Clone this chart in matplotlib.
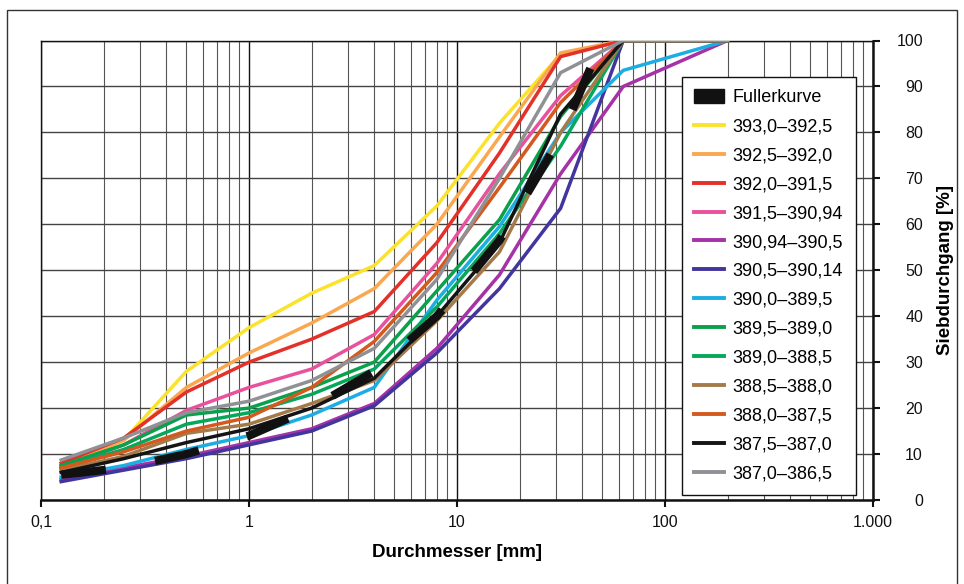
import matplotlib
matplotlib.use('Agg')
import matplotlib.pyplot as plt
from matplotlib.patches import Patch, Rectangle
from matplotlib.ticker import FixedLocator, LogLocator, NullFormatter

# Siebweiten [mm]
sieve = [0.125, 0.25, 0.5, 1, 2, 4, 8, 16, 31.5, 63, 200]
fuller_sieve = [0.125, 0.25, 0.5, 1, 2, 4, 8, 16, 31.5, 50]
fuller = [5.5, 7, 10, 14, 20, 28, 40, 56.5, 79, 100]

labels = ['393,0–392,5', '392,5–392,0', '392,0–391,5', '391,5–390,94',
          '390,94–390,5', '390,5–390,14', '390,0–389,5', '389,5–389,0',
          '389,0–388,5', '388,5–388,0', '388,0–387,5', '387,5–387,0',
          '387,0–386,5']
colors = ['#FBE22C', '#F9A850', '#E3312A', '#E8519B', '#A632A8', '#42369E',
          '#1CAEE2', '#0BA04C', '#05A85B', '#A57A4B', '#D3591F', '#141414',
          '#8F9194']

s393 = [7.5, 13, 28, 37.5, 45, 51, 64, 82, 97, 100, 100]
s3925 = [7.5, 13, 24.5, 32, 38.5, 46, 60, 79, 97.3, 100, 100]
s392 = [8, 13.5, 23.5, 30, 35, 41, 56, 75.5, 96.5, 100, 100]
s3915 = [7, 12, 19.5, 24.5, 28.5, 36, 51.5, 71, 88, 100, 100]
s39094 = [4.5, 7, 9.5, 12.5, 15.5, 21, 33, 49, 71, 90, 100]
s3905 = [4, 6.5, 9, 12, 15, 20.5, 32, 46, 63.5, 100, 100]
s390 = [5, 7.5, 11, 14, 18.5, 24.5, 43.5, 59.5, 80, 93.5, 100]
s3895 = [7.5, 12, 18.5, 20, 24.5, 30, 45.5, 61, 83.5, 100, 100]
s389 = [7, 11, 16.5, 19, 23, 28.5, 42, 58, 77, 100, 100]
s3885 = [6.5, 9.5, 14.5, 16.5, 21, 26, 39, 54, 80, 100, 100]
s388 = [7, 10.5, 15, 18, 24.5, 34.5, 49.5, 68, 86.5, 100, 100]
s3875 = [6, 9, 12.5, 15.5, 20, 26.5, 40, 56, 84, 100, 100]
s387 = [8.7, 13.5, 19, 21.5, 26, 33, 48, 70, 93, 100, 100]
series = [s393, s3925, s392, s3915, s39094, s3905, s390, s3895, s389,
          s3885, s388, s3875, s387]

plt.rcParams['font.family'] = ['Liberation Sans', 'DejaVu Sans']

W, H = 964, 584
fig = plt.figure(figsize=(W / 100, H / 100), dpi=100)
ax = fig.add_axes([41 / W, (H - 500) / H, 832 / W, 459.5 / H])

# Rahmen um die ganze Grafik
fig.patches.append(Rectangle((7 / W, -0.05), 950 / W, (H - 10) / H + 0.05,
                             transform=fig.transFigure, fill=False,
                             edgecolor='#333333', linewidth=1.0))

ax.set_xscale('log')
ax.set_xlim(0.1, 1000)
ax.set_ylim(0, 100)

# Gitter
ax.xaxis.set_minor_locator(LogLocator(base=10, subs=range(2, 10)))
ax.xaxis.set_minor_formatter(NullFormatter())
ax.grid(True, which='minor', axis='x', color='#555555', linewidth=0.8)
ax.grid(True, which='major', axis='x', color='#111111', linewidth=1.0)
ax.grid(True, which='major', axis='y', color='#444444', linewidth=1.0)
ax.set_axisbelow(True)

for vals, c in zip(series, colors):
    ax.plot(sieve, vals, color=c, linewidth=2.5, zorder=3,
            solid_joinstyle='miter')

# Fullerkurve (gestrichelt, dick)
ax.plot(fuller_sieve, fuller, color='#111111', linewidth=6,
        linestyle=(0, (5.4, 6.0)), dash_capstyle='butt', zorder=4)

# Achsen
for side in ['left', 'top']:
    ax.spines[side].set_linewidth(1.0)
    ax.spines[side].set_color('#111111')
for side in ['bottom', 'right']:
    ax.spines[side].set_linewidth(1.8)
    ax.spines[side].set_color('#111111')

ax.xaxis.set_major_locator(FixedLocator([0.1, 1, 10, 100, 1000]))
ax.set_xticklabels(['0,1', '1', '10', '100', '1.000'], fontsize=11.5)
ax.tick_params(axis='x', which='major', direction='out', length=5, width=1.5,
               pad=6, colors='#111111')
ax.tick_params(axis='x', which='minor', length=0)

ax.yaxis.tick_right()
ax.yaxis.set_label_position('right')
ax.set_yticks(range(0, 101, 10))
ax.set_yticklabels([str(v) for v in range(0, 101, 10)], fontsize=11.5)
ax.tick_params(axis='y', direction='out', length=5, width=1.5, pad=31,
               colors='#111111')
for lab in ax.get_yticklabels():
    lab.set_horizontalalignment('right')

ax.set_xlabel('Durchmesser [mm]', fontsize=13.5, fontweight='bold',
              labelpad=10)
ax.set_ylabel('Siebdurchgang [%]', fontsize=13.5, fontweight='bold',
              labelpad=10)

# Legende
handles = [Patch(facecolor='#111111', edgecolor='#111111')]
handles += [plt.Line2D([], [], color=c, linewidth=2.8) for c in colors]
leg = ax.legend(handles, ['Fullerkurve'] + labels, loc='upper left',
                bbox_to_anchor=(0.770, 0.9206), borderaxespad=0,
                fontsize=13, frameon=True, fancybox=False, framealpha=1,
                edgecolor='#111111', handlelength=1.65, handleheight=0.8,
                handletextpad=0.5, labelspacing=0.65, borderpad=0.68)
leg.get_frame().set_linewidth(1.0)
leg.set_zorder(5)

fig.savefig('out.png', dpi=100)
